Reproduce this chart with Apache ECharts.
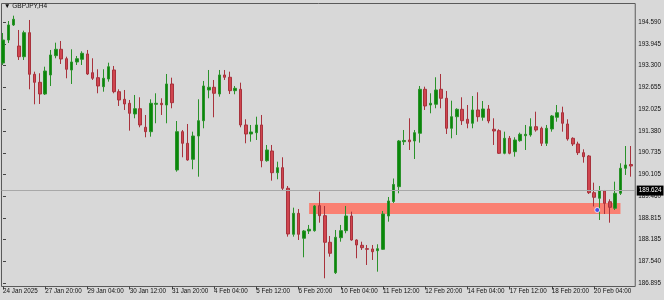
<!DOCTYPE html>
<html><head><meta charset="utf-8">
<script src="https://cdn.jsdelivr.net/npm/echarts@6/dist/echarts.min.js"></script>
<style>html,body{margin:0;padding:0;background:#d8d8d8}#c{width:664px;height:300px}</style>
</head><body><div id="c"></div><script>
const symbolTitle = 'GBPJPY,H4';
const opens = [193.381,194.059,194.502,193.882,193.567,194.275,193.048,192.812,192.467,193.028,
193.597,193.785,193.508,193.175,193.411,193.490,193.647,193.095,192.948,192.683,
192.910,193.175,192.535,192.311,192.193,191.878,192.034,191.486,191.356,192.164,
192.193,192.143,192.762,190.227,191.356,191.014,190.542,191.229,191.680,192.585,
192.665,192.467,193.028,192.960,192.565,192.606,191.554,191.288,191.327,191.554,
190.501,190.787,190.147,190.295,189.687,188.331,188.950,188.214,188.429,188.438,
189.175,188.880,188.096,187.199,188.231,188.438,188.871,188.163,188.007,187.907,
187.898,187.848,187.889,188.871,189.298,189.735,191.061,191.111,191.082,191.309,
192.606,192.143,192.164,192.606,192.341,191.456,191.798,192.016,191.722,191.604,
191.996,191.781,192.025,191.427,191.386,190.719,191.161,190.766,191.091,191.238,
191.259,191.503,191.456,191.014,191.436,191.781,191.916,191.583,191.161,190.993,
190.737,190.640,189.558,189.393,189.608,189.292,189.098,189.540,190.277,190.389];
const closes = [194.059,194.502,194.670,193.567,194.275,193.048,192.812,192.467,193.145,193.617,
193.785,193.499,193.196,193.411,193.508,193.667,193.057,192.930,192.703,192.930,
193.272,192.535,192.291,192.173,191.898,192.034,191.554,191.356,192.193,192.193,
192.152,192.762,192.211,191.356,191.014,190.522,191.229,191.680,192.703,192.665,
192.488,193.028,192.960,192.565,192.635,191.554,191.288,191.347,191.554,190.501,
190.817,190.147,190.295,189.687,188.340,188.950,188.331,188.429,188.479,189.166,
188.880,188.096,187.771,188.243,188.438,188.871,188.163,188.016,187.936,187.889,
187.818,187.907,188.930,189.313,189.800,191.082,191.097,191.061,191.327,192.606,
192.114,192.193,192.585,192.341,191.456,191.798,192.016,191.680,191.604,191.996,
191.798,192.025,191.671,191.377,190.719,191.161,190.719,191.111,191.279,191.279,
191.503,191.406,191.014,191.456,191.819,191.916,191.604,191.141,190.993,190.737,
190.619,189.558,189.422,189.617,189.245,189.127,189.540,190.277,190.374,190.345];
const lows = [193.322,193.971,194.472,193.470,193.470,192.606,192.164,192.173,192.438,192.703,
193.520,193.352,192.930,192.762,193.322,193.322,193.028,192.880,192.488,192.535,
192.830,192.488,192.114,191.996,191.386,191.751,191.486,191.191,191.209,191.604,
191.848,191.604,192.046,190.177,190.601,190.501,190.248,190.029,191.456,192.341,
191.781,192.388,192.880,192.467,192.459,191.486,191.014,191.061,191.111,190.307,
190.472,189.912,189.953,189.617,188.261,188.261,188.163,187.653,188.340,188.408,
188.673,187.034,187.671,187.161,188.113,188.361,188.143,187.624,187.869,187.426,
187.574,187.229,187.869,188.703,189.254,189.540,190.964,190.817,190.551,191.032,
191.996,191.898,192.046,192.046,191.288,191.161,191.259,191.554,191.456,191.456,
191.651,191.680,191.604,190.964,190.699,190.690,190.690,190.619,191.061,190.817,
191.209,191.356,190.934,190.934,191.356,191.651,191.356,191.091,190.934,190.669,
190.442,189.519,189.151,188.753,188.930,188.673,189.048,189.490,190.080,190.029];
const highs = [194.266,194.619,194.776,194.354,194.334,194.649,193.125,193.078,193.272,193.765,
193.980,194.030,193.567,193.785,193.588,193.726,193.765,193.520,193.196,193.196,
193.390,193.293,192.606,192.585,192.291,192.438,192.370,191.848,192.311,192.488,
192.341,193.057,192.948,191.671,191.406,191.583,191.356,192.311,192.851,193.175,
192.880,193.175,193.175,193.125,192.703,192.801,191.722,191.554,191.798,191.848,
190.964,190.964,190.472,190.601,189.755,189.116,189.077,188.458,188.606,189.195,
189.587,189.166,188.281,188.458,188.606,189.166,188.998,188.184,188.113,188.016,
188.016,188.037,189.018,189.431,189.976,191.111,191.406,191.751,191.406,192.703,
192.683,192.488,192.960,193.057,192.556,192.270,192.046,192.370,192.143,192.408,
192.518,192.261,192.143,191.751,191.427,191.356,191.229,191.191,191.327,191.554,
191.751,191.946,191.503,191.554,191.848,192.143,192.093,191.722,191.191,191.061,
190.837,190.669,189.853,189.755,189.637,189.363,189.882,190.425,190.934,190.934];
const xTickIndex = [0,8,16,24,32,40,48,56,64,72,80,88,96,104,112];
const xTickLabels = ['24 Jan 2025','27 Jan 20:00','29 Jan 04:00','30 Jan 12:00','31 Jan 20:00',
'4 Feb 04:00','5 Feb 12:00','6 Feb 20:00','10 Feb 04:00','11 Feb 12:00','12 Feb 20:00',
'14 Feb 04:00','17 Feb 12:00','18 Feb 20:00','20 Feb 04:00'];
const yTickValues = [194.590,193.945,193.300,192.655,192.025,191.380,190.735,190.105,189.460,188.815,188.185,187.540,186.895];
const bidPrice = 189.624;
const zone = [58, 117, 188.929, 189.254];
const markers = [[112.6, 189.048]];

const candles = opens.map((o, i) => [i, o, closes[i], lows[i], highs[i]]);
const FONT = 'Liberation Sans';
const chart = echarts.init(document.getElementById('c'), null, {renderer: 'canvas'});
chart.setOption({
  animation: false,
  backgroundColor: '#d8d8d8',
  grid: {left: 1.5, right: 28.5, top: 3.5, bottom: 13.5, show: true, borderColor: '#5a5a5a', borderWidth: 1, backgroundColor: 'transparent'},
  xAxis: {
    type: 'value', min: -0.284, max: 119.8,
    axisLine: {show: false},
    splitLine: {show: false},
    axisTick: {show: true, customValues: xTickIndex, length: 3, lineStyle: {color: '#444'}},
    axisLabel: {customValues: xTickIndex, align: 'left', margin: 2, fontSize: 6.3, fontFamily: FONT, color: '#111',
      formatter: v => xTickLabels[xTickIndex.indexOf(Math.round(v))] || ''}
  },
  yAxis: {
    type: 'value', position: 'right', min: 186.792, max: 195.135,
    axisLine: {show: false},
    splitLine: {show: false},
    axisTick: {show: true, customValues: yTickValues, length: 3, lineStyle: {color: '#444'}},
    axisLabel: {customValues: yTickValues, margin: 3, fontSize: 6.3, fontFamily: FONT, color: '#111',
      formatter: v => v.toFixed(3)}
  },
  graphic: [{type: 'text', left: 4, top: 3, style: {text: '\u25BC ' + symbolTitle, font: '6.5px "Liberation Sans"', fill: '#111'}}],
  series: [
    {
      type: 'custom', z: 1, silent: true,
      data: [zone],
      renderItem: (params, api) => {
        const p1 = api.coord([api.value(0), api.value(3)]);
        const p2 = api.coord([api.value(1), api.value(2)]);
        return {type: 'rect', shape: {x: p1[0], y: p1[1], width: p2[0] - p1[0], height: p2[1] - p1[1]}, style: {fill: '#fa8072'}};
      }
    },
    {
      type: 'candlestick', z: 3,
      data: candles,
      barWidth: 3,
      itemStyle: {color: '#0a870a', borderColor: '#2a922a', color0: '#d0454f', borderColor0: '#a8323c', borderWidth: 1},
      markLine: {
        silent: true, symbol: 'none', animation: false,
        lineStyle: {color: '#a8a8a8', width: 1, type: 'solid'},
        label: {position: 'end', distance: 1.5, formatter: () => bidPrice.toFixed(3), backgroundColor: '#000', color: '#fff',
          fontSize: 6.3, fontFamily: FONT, padding: [2, 2]},
        data: [{yAxis: bidPrice}]
      }
    },
    {
      type: 'scatter', z: 4, data: markers, symbol: 'circle', symbolSize: 5,
      itemStyle: {color: '#1e40ff', borderColor: '#fff', borderWidth: 1}
    }
  ]
});
</script></body></html>
